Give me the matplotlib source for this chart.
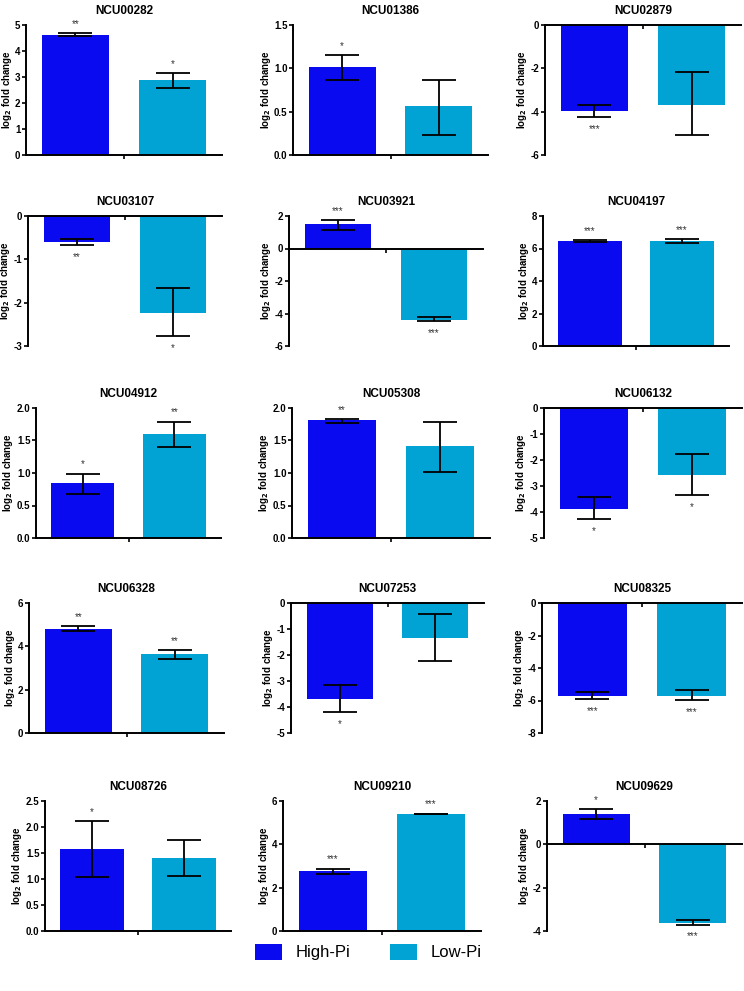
import matplotlib
matplotlib.use("Agg")
import matplotlib.pyplot as plt
from matplotlib.patches import Patch

plt.rcParams['font.family'] = ['Liberation Sans', 'DejaVu Sans']

genes = ["NCU00282", "NCU01386", "NCU02879", "NCU03107", "NCU03921", "NCU04197",
         "NCU04912", "NCU05308", "NCU06132", "NCU06328", "NCU07253", "NCU08325",
         "NCU08726", "NCU09210", "NCU09629"]

# bar heights
high_val = [4.62, 1.01, -3.97, -0.60, 1.51, 6.45, 0.84, 1.81, -3.87, 4.82, -3.68, -5.74, 1.58, 2.78, 1.42]
low_val = [2.88, 0.56, -3.67, -2.23, -4.40, 6.47, 1.60, 1.41, -2.59, 3.66, -1.36, -5.72, 1.41, 5.40, -3.62]
# error bar ends (lower, upper)
high_lo = [4.57, 0.86, -4.23, -0.67, 1.13, 6.37, 0.68, 1.77, -4.26, 4.71, -4.18, -5.89, 1.04, 2.64, 1.16]
high_hi = [4.68, 1.15, -3.69, -0.53, 1.75, 6.53, 0.99, 1.83, -3.44, 4.92, -3.15, -5.50, 2.12, 2.88, 1.63]
low_lo = [2.58, 0.23, -5.07, -2.77, -4.46, 6.33, 1.40, 1.01, -3.36, 3.43, -2.22, -5.99, 1.06, 5.38, -3.70]
low_hi = [3.15, 0.87, -2.18, -1.65, -4.24, 6.57, 1.79, 1.79, -1.78, 3.83, -0.42, -5.37, 1.75, 5.42, -3.50]
high_sig = ["**", "*", "***", "**", "***", "***", "*", "**", "*", "**", "*", "***", "*", "***", "*"]
low_sig = ["*", "", "", "*", "***", "***", "**", "", "*", "**", "", "***", "", "***", "***"]

y_min = [0, 0, -6, -3, -6, 0, 0, 0, -5, 0, -5, -8, 0, 0, -4]
y_max = [5, 1.5, 0, 0, 2, 8, 2, 2, 0, 6, 0, 0, 2.5, 6, 2]
y_step = [1, 0.5, 2, 1, 2, 2, 0.5, 0.5, 1, 2, 1, 2, 0.5, 2, 2]
decimals = [0, 1, 0, 0, 0, 0, 1, 1, 0, 0, 0, 0, 1, 0, 0]

# panel frames in pixels (left, right of the x axis)
lefts = [26, 293, 545, 28, 289, 543, 36, 292, 544, 29, 291, 542, 45, 283, 547]
rights = [222, 488, 741, 222, 483, 729, 221, 490, 742, 224, 484, 742, 231, 481, 742]
tops = [25, 216, 408, 603, 801]
axh = 130

W, H = 744, 991
blue = "#0A0AF0"
cyan = "#00A3D3"

fig = plt.figure(figsize=(W / 100, H / 100), dpi=100)

for i, g in enumerate(genes):
    row = i // 3
    l, r = lefts[i], rights[i]
    t = tops[row]
    ax = fig.add_axes([l / W, 1 - (t + axh) / H, (r - l) / W, axh / H])
    vals = [high_val[i], low_val[i]]
    lo = [high_lo[i], low_lo[i]]
    hi = [high_hi[i], low_hi[i]]
    ax.bar([0, 1], vals, width=0.69, color=[blue, cyan], zorder=2)
    yerr = [[vals[k] - lo[k] for k in range(2)], [hi[k] - vals[k] for k in range(2)]]
    ax.errorbar([0, 1], vals, yerr=yerr, fmt="none", ecolor="black",
                elinewidth=1.3, capsize=12, capthick=1.3, zorder=3)
    for k, s in enumerate([high_sig[i], low_sig[i]]):
        if not s:
            continue
        if vals[k] >= 0:
            ax.annotate(s, (k, hi[k]), xytext=(0, 3), textcoords="offset points",
                        ha="center", va="bottom", fontsize=7, color="#333333")
        else:
            ax.annotate(s, (k, lo[k]), xytext=(0, -5), textcoords="offset points",
                        ha="center", va="top", fontsize=7, color="#333333")

    ax.set_xlim(-0.51, 1.51)
    ax.set_ylim(y_min[i], y_max[i])
    n = int(round((y_max[i] - y_min[i]) / y_step[i]))
    ticks = [y_min[i] + y_step[i] * j for j in range(n + 1)]
    ax.set_yticks(ticks)
    ax.set_yticklabels([f"{v:.{decimals[i]}f}" for v in ticks], fontsize=7, fontweight="bold")
    ax.set_xticks([0.5])
    ax.set_xticklabels([])
    for sp in ["top", "right"]:
        ax.spines[sp].set_visible(False)
    ax.spines["bottom"].set_position(("data", 0))
    ax.spines["left"].set_linewidth(1.4)
    ax.spines["bottom"].set_linewidth(1.4)
    ax.tick_params(axis="both", direction="out", length=3, width=1.2, pad=1)
    ax.set_ylabel("log$_\\mathbf{2}$ fold change", fontsize=7, fontweight="bold", labelpad=1)
    ax.set_title(g, fontsize=8.5, fontweight="bold", pad=8)

handles = [Patch(facecolor=blue, label="High-Pi"), Patch(facecolor=cyan, label="Low-Pi")]
fig.legend(handles=handles, loc="center", bbox_to_anchor=(0.495, 1 - 952 / H), ncol=2,
           frameon=False, fontsize=12, handlelength=1.6, handleheight=1.1,
           columnspacing=2.4, handletextpad=0.8)

fig.savefig("out.png", dpi=100)
